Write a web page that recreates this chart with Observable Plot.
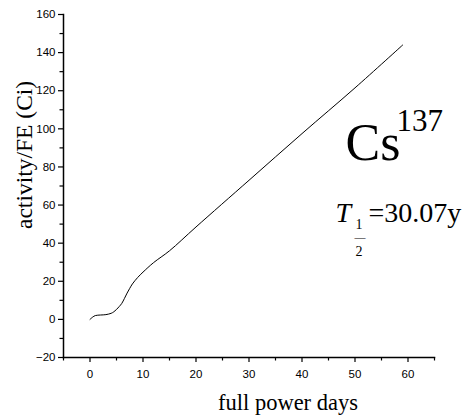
<!DOCTYPE html>
<html>
<head>
<meta charset="utf-8">
<script src="https://cdn.jsdelivr.net/npm/d3@7"></script>
<script src="https://cdn.jsdelivr.net/npm/@observablehq/plot@0.6"></script>
<style>
  html, body { margin: 0; padding: 0; background: #fff; }
</style>
</head>
<body>
<div id="chart"></div>
<script>
// Data
const days = [0, 0.5, 1, 2, 3, 4, 4.5, 5, 5.5, 6, 6.5, 7, 7.5, 8, 9, 10, 12, 15, 20, 30, 40, 50, 59];
const activity = [0, 1.2, 2, 2.3, 2.5, 3.2, 4, 5.2, 6.7, 8.4, 11, 13.8, 16.3, 18.6, 22, 24.8, 29.8, 36, 48.5, 73, 97.5, 121.5, 144];
const xMajorTicks = [0, 10, 20, 30, 40, 50, 60];
const xMinorTicks = [-5, 5, 15, 25, 35, 45, 55, 65];
const yMajorTicks = [-20, 0, 20, 40, 60, 80, 100, 120, 140, 160];
const yMinorTicks = [-10, 10, 30, 50, 70, 90, 110, 130, 150];
const xTitle = "full power days";
const yTitle = "activity/FE (Ci)";

const table = days.map((d, i) => ({day: d, act: activity[i]}));

const serif = "'Liberation Serif', 'Times New Roman', serif";
const sans = "'Liberation Sans', Arial, sans-serif";

const note = (txt, o) => Plot.text([txt], {
  text: d => d, frameAnchor: "top-left", textAnchor: "start", lineAnchor: "bottom",
  fontFamily: serif, fill: "black", ...o
});

const chart = Plot.plot({
  width: 465,
  height: 420,
  marginLeft: 63,
  marginRight: 31,
  marginTop: 14,
  marginBottom: 63,
  style: {fontFamily: sans, background: "white", color: "black"},
  x: {domain: [-5, 65]},
  y: {domain: [-20, 160]},
  marks: [
    Plot.axisX({ticks: xMajorTicks, tickSize: 5, tickPadding: 7, fontSize: 11.5, label: null, stroke: "black", strokeWidth: 1.2}),
    Plot.axisX({ticks: xMinorTicks, tickSize: 3.5, text: null, label: null, stroke: "black", strokeWidth: 1.2}),
    Plot.axisY({ticks: yMajorTicks, tickSize: 5, tickPadding: 3, fontSize: 11.5, label: null, stroke: "black", strokeWidth: 1.2}),
    Plot.axisY({ticks: yMinorTicks, tickSize: 3.5, text: null, label: null, stroke: "black", strokeWidth: 1.2}),
    Plot.frame({anchor: "left", stroke: "black", strokeWidth: 1.5}),
    Plot.frame({anchor: "bottom", stroke: "black", strokeWidth: 1.5}),
    Plot.line(table, {x: "day", y: "act", stroke: "black", strokeWidth: 1, curve: "catmull-rom"}),
    // axis titles
    Plot.text([yTitle], {text: d => d, frameAnchor: "left", rotate: -90, dx: -39, dy: 43, fontSize: 23.5, fontFamily: serif, fill: "black"}),
    Plot.text([xTitle], {text: d => d, frameAnchor: "bottom", lineAnchor: "bottom", dx: 39, dy: 52, fontSize: 22.5, fontFamily: serif, fill: "black"}),
    // annotations
    note("Cs", {dx: 282, dy: 145, fontSize: 52}),
    note("137", {dx: 333, dy: 116, fontSize: 31}),
    note("T", {dx: 272, dy: 207, fontSize: 28, fontStyle: "italic"}),
    note("1", {dx: 292, dy: 214, fontSize: 14}),
    note("\u2014", {dx: 291, dy: 226, fontSize: 11}),
    note("2", {dx: 292, dy: 241, fontSize: 14}),
    note("=30.07y", {dx: 305, dy: 207, fontSize: 28})
  ]
});

document.getElementById("chart").appendChild(chart);
</script>
</body>
</html>
